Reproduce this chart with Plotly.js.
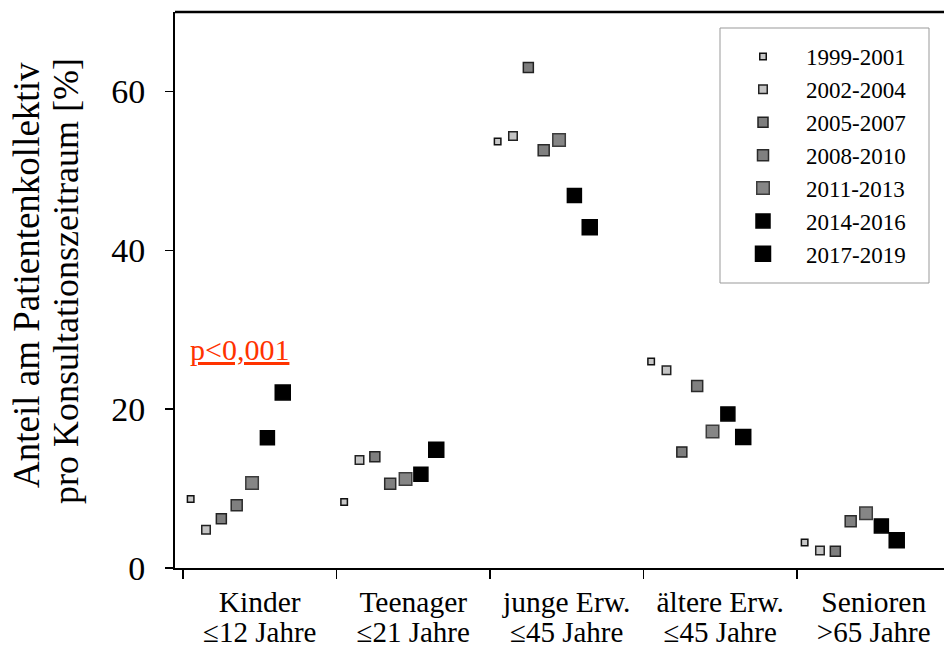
<!DOCTYPE html>
<html>
<head>
<meta charset="utf-8">
<script src="https://cdn.plot.ly/plotly-3.0.1.min.js"></script>
<style>html,body{margin:0;padding:0;background:#fff;}#chart{width:944px;height:650px;}</style>
</head>
<body>
<div id="chart"></div>
<script>
// ---- data ----
var categoryLine1 = ["Kinder", "Teenager", "junge Erw.", "ältere Erw.", "Senioren"];
var categoryLine2 = ["≤12 Jahre", "≤21 Jahre", "≤45 Jahre", "≤45 Jahre", ">65 Jahre"];
var periods = ["1999-2001", "2002-2004", "2005-2007", "2008-2010", "2011-2013", "2014-2016", "2017-2019"];
var v1999_2001 = [8.7, 8.3, 53.7, 26.0, 3.2];
var v2002_2004 = [4.8, 13.6, 54.4, 24.9, 2.2];
var v2005_2007 = [6.2, 14.0, 63.0, 14.6, 2.1];
var v2008_2010 = [7.9, 10.6, 52.6, 22.9, 5.9];
var v2011_2013 = [10.7, 11.2, 53.9, 17.2, 6.9];
var v2014_2016 = [16.4, 11.8, 46.9, 19.4, 5.3];
var v2017_2019 = [22.1, 14.9, 42.9, 16.5, 3.5];
var yTicks = [0, 20, 40, 60];
var yTitle1 = "Anteil am Patientenkollektiv";
var yTitle2 = "pro Konsultationszeitraum [%]";
var pLabel = "p<0,001";

// ---- styles ----
var series = [v1999_2001, v2002_2004, v2005_2007, v2008_2010, v2011_2013, v2014_2016, v2017_2019];
var offsets = [-0.45, -0.35, -0.25, -0.15, -0.05, 0.05, 0.15];
var sizes = [6.5, 8.5, 10, 11, 12.5, 14, 15];
var fills = ["#c8c8c8", "#c4c4c4", "#7e7e7e", "#808080", "#868686", "#000000", "#000000"];
var lines = ["#111111", "#222222", "#222222", "#2a2a2a", "#3c3c3c", "#000000", "#000000"];
var FONT = '"Liberation Serif", "Times New Roman", Times, serif';
var L = 175, T = 12, PW = 769, PH = 556;
function px(x) { return (x - L) / PW; }
function py(y) { return (T + PH - y) / PH; }

var traces = series.map(function (vals, k) {
  return {
    type: "scatter",
    mode: "markers",
    name: periods[k],
    x: vals.map(function (v, i) { return i + offsets[k]; }),
    y: vals,
    marker: { symbol: "square", size: sizes[k], color: fills[k], line: { color: lines[k], width: 1.5 } },
    hoverinfo: "name+y"
  };
});
// carrier for the second label row (no visible marks)
traces.push({ type: "scatter", mode: "markers", x: [0], y: [0], xaxis: "x2", yaxis: "y",
  marker: { size: 0.1, opacity: 0 }, showlegend: false, hoverinfo: "skip" });

var xRange = [-0.552, 4.458];
var layout = {
  width: 944, height: 650,
  margin: { l: L, r: 944 - L - PW, t: T, b: 650 - T - PH },
  paper_bgcolor: "#ffffff", plot_bgcolor: "#ffffff",
  font: { family: FONT, color: "#000000" },
  showlegend: true,
  legend: {
    x: px(720), xanchor: "left",
    y: py(35), yanchor: "top",
    borderwidth: 0, bgcolor: "rgba(0,0,0,0)",
    font: { family: FONT, size: 23, color: "#000000" },
    itemsizing: "trace", itemwidth: 76
  },
  xaxis: {
    type: "linear",
    range: xRange,
    tickmode: "array",
    tickvals: [0, 1, 2, 3, 4],
    ticktext: categoryLine1,
    ticks: "",
    ticklabelstandoff: 7,
    tickfont: { family: FONT, size: 29.5, color: "#000000" },
    minor: { ticks: "outside", tickmode: "linear", tick0: -0.5, dtick: 1, ticklen: 9, tickwidth: 1.5, tickcolor: "#000000", showgrid: false },
    showgrid: false, zeroline: false,
    showline: true, linecolor: "#000000", linewidth: 2,
    automargin: false, fixedrange: true
  },
  xaxis2: {
    type: "linear",
    overlaying: "x", anchor: "y", side: "bottom",
    range: xRange,
    tickmode: "array",
    tickvals: [0, 1, 2, 3, 4],
    ticktext: categoryLine2,
    ticks: "",
    ticklabelstandoff: 44,
    tickfont: { family: FONT, size: 29, color: "#000000" },
    showgrid: false, zeroline: false, showline: false,
    automargin: false, fixedrange: true
  },
  yaxis: {
    range: [0, 70],
    tickmode: "array",
    tickvals: yTicks,
    ticks: "outside", ticklen: 8, tickwidth: 1.5, tickcolor: "#000000",
    ticklabelstandoff: 13,
    tickfont: { family: FONT, size: 34, color: "#000000" },
    showgrid: false, zeroline: false,
    showline: true, linecolor: "#000000", linewidth: 2,
    automargin: false, fixedrange: true
  },
  shapes: [
    { type: "line", xref: "paper", yref: "paper", x0: 0, x1: 1, y0: 1, y1: 1, line: { color: "#000000", width: 2.5 } },
    { type: "rect", xref: "paper", yref: "paper", x0: px(720), x1: px(929), y0: py(283), y1: py(28),
      line: { color: "#999999", width: 1 }, fillcolor: "rgba(0,0,0,0)", layer: "above" }
  ],
  annotations: [
    { xref: "paper", yref: "y", x: px(188), y: 25.2, xanchor: "left", yanchor: "bottom",
      text: "<u>" + pLabel.replace("<", "&lt;") + "</u>", showarrow: false,
      font: { family: FONT, size: 30, color: "#ff3300" } },
    { xref: "paper", yref: "paper", x: px(27), y: py(275), xanchor: "center", yanchor: "middle",
      textangle: -90, text: yTitle1, showarrow: false,
      font: { family: FONT, size: 37, color: "#000000" } },
    { xref: "paper", yref: "paper", x: px(66), y: py(281), xanchor: "center", yanchor: "middle",
      textangle: -90, text: yTitle2, showarrow: false,
      font: { family: FONT, size: 36, color: "#000000" } }
  ]
};

Plotly.newPlot("chart", traces, layout, { displayModeBar: false, staticPlot: true });
</script>
</body>
</html>
